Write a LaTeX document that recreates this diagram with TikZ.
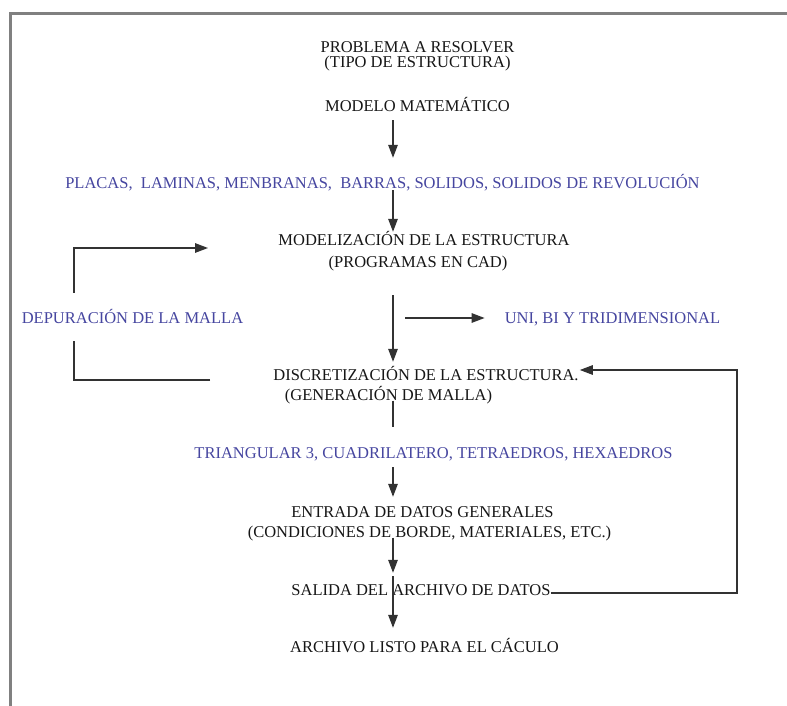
\documentclass[tikz,border=0pt]{standalone}
\usepackage{fontspec}
\setmainfont{Liberation Serif}
\usetikzlibrary{arrows.meta,calc}
\definecolor{ink}{RGB}{22,22,22}
\definecolor{blueink}{RGB}{70,70,160}
\definecolor{wire}{RGB}{50,50,50}
\definecolor{framegray}{RGB}{128,128,128}
\tikzset{
  lbl/.style={inner sep=0pt, text height=11bp, text depth=0pt,
    font=\fontsize{16.5bp}{19bp}\selectfont, text=ink},
  bluelbl/.style={lbl, text=blueink},
  ln/.style={draw=wire, line width=1.4bp},
  arr/.style={ln, -{Triangle[length=13bp,width=9.5bp]}},
}
\begin{document}
\begin{tikzpicture}[x=1bp,y=-1bp]
\useasboundingbox (0,0) rectangle (787,706);
\fill[white] (0,0) rectangle (787,706);

% page frame (left and top edges)
\draw[framegray, line width=3bp] (10,706) -- (10,14) -- (787,14);

% axis of the main flow arrows
\coordinate (ax) at (393,0);

% main column
\node[lbl] (pr)   at (417.5,47)  {PROBLEMA A RESOLVER};
\node[lbl] (tipo) at (417.5,62)  {(TIPO DE ESTRUCTURA)};
\node[lbl] (mm)   at (417.5,106) {MODELO MATEMÁTICO};
\node[bluelbl] (pl) at (382.5,183) {PLACAS,\ \ LAMINAS, MENBRANAS,\ \ BARRAS, SOLIDOS, SOLIDOS DE REVOLUCIÓN};
\node[lbl] (mod)  at (424,240)   {MODELIZACIÓN DE LA ESTRUCTURA};
\node[lbl] (prog) at (418,262)   {(PROGRAMAS EN CAD)};
\node[bluelbl] (dep) at (132.5,318) {DEPURACIÓN DE LA MALLA};
\node[bluelbl] (uni) at (612.5,318) {UNI, BI Y TRIDIMENSIONAL};
\node[lbl] (disc) at (426,375)   {DISCRETIZACIÓN DE LA ESTRUCTURA.};
\node[lbl] (gen)  at (388.5,395) {(GENERACIÓN DE MALLA)};
\node[bluelbl] (tri) at (433.5,453) {TRIANGULAR 3, CUADRILATERO, TETRAEDROS, HEXAEDROS};
\node[lbl] (ent)  at (422.5,512) {ENTRADA DE DATOS GENERALES};
\node[lbl] (cond) at (429.5,532) {(CONDICIONES DE BORDE, MATERIALES, ETC.)};
\node[lbl] (sal)  at (421,590)   {SALIDA DEL ARCHIVO DE DATOS};
\node[lbl] (arch) at (424.5,647) {ARCHIVO LISTO PARA EL CÁCULO};

% main flow
\draw[arr, shorten <=8.5bp, shorten >=19.5bp] (mm.south -| ax) -- (pl.north -| ax);
\draw[arr, shorten <=1.5bp, shorten >=2.5bp] (pl.south -| ax) -- (mod.north -| ax);
\draw[arr, shorten <=27.5bp, shorten >=7.5bp] (prog.south -| ax) -- (disc.north -| ax);
\draw[ln, shorten >=20.5bp] (gen.south -| ax) -- (tri.north -| ax);
\draw[arr, shorten <=8.5bp, shorten >=9.5bp] (tri.south -| ax) -- (ent.north -| ax);
\draw[arr, shorten >=11.5bp] (cond.south -| ax) -- (sal.north -| ax);
\draw[arr, shorten <=-8bp, shorten >=13.5bp] (sal.north -| ax) -- (arch.north -| ax);

% side branch to the element dimension
\coordinate (bs) at (405,318);
\draw[arr, shorten >=20bp] (bs) -- (uni.west);

% mesh refinement loop on the left
\coordinate (lx) at (74,0);
\coordinate (lb) at (210,380);
\coordinate (lt) at (208,248);
\draw[ln] (lb) -| ($(dep.south -| lx)+(0,17)$);
\draw[arr] ($(dep.north -| lx)+(0,-19.5)$) |- (lt);

% feedback from the data file back to the discretization
\coordinate (fb) at (737,370);
\draw[arr, shorten >=1bp] ($(sal.east)+(0,3)$) -| (fb) -- (disc.east |- fb);
\end{tikzpicture}
\end{document}
